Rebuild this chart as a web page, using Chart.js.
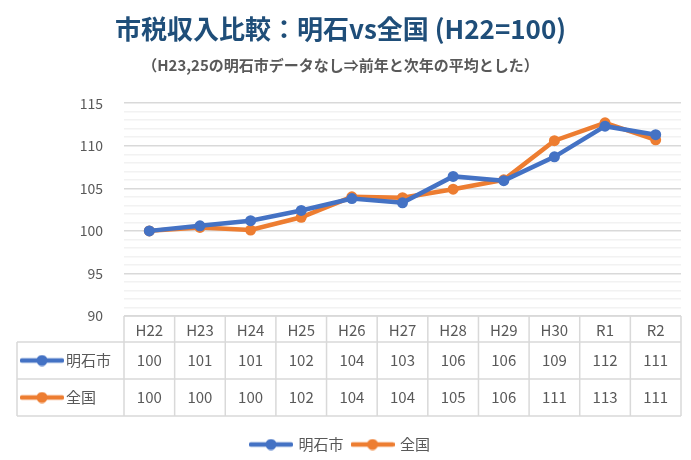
<!DOCTYPE html>
<html><head><meta charset="utf-8">
<script src="https://cdn.jsdelivr.net/npm/chart.js@4.4.1/dist/chart.umd.min.js"></script>
<style>html,body{margin:0;padding:0;background:#fff;}#wrap{width:691px;height:460px;position:relative;}</style>
</head><body><div id="wrap"><canvas id="c"></canvas></div>
<script>
const categories = ['H22','H23','H24','H25','H26','H27','H28','H29','H30','R1','R2'];
const akashiValues = [100, 100.6, 101.2, 102.4, 103.8, 103.3, 106.4, 105.9, 108.7, 112.3, 111.3];
const zenkokuValues = [100, 100.4, 100.1, 101.6, 104.0, 103.9, 104.9, 106.0, 110.6, 112.7, 110.7];
const akashiTable = [100, 101, 101, 102, 104, 103, 106, 106, 109, 112, 111];
const zenkokuTable = [100, 100, 100, 102, 104, 104, 105, 106, 111, 113, 111];
const seriesNames = ['明石市', '全国'];
const seriesColors = ['#4472C4', '#ED7D31'];
const yMin = 90, yMax = 115, yMajor = 5;
const titleText = '市税収入比較：明石vs全国 (H22=100)';
const subtitleText = '（H23,25の明石市データなし⇒前年と次年の平均とした）';

const FONT = '"Noto Sans CJK JP", "Noto Sans", sans-serif';
const GRAY = '#595959';

function makeKey(color) {
  const c = document.createElement('canvas');
  c.width = 44; c.height = 12;
  const g = c.getContext('2d');
  g.strokeStyle = color; g.lineWidth = 4.5; g.lineCap = 'round';
  g.beginPath(); g.moveTo(2, 6); g.lineTo(42, 6); g.stroke();
  g.fillStyle = color; g.beginPath(); g.arc(22, 6, 5.5, 0, Math.PI * 2); g.fill();
  return c;
}
const keys = seriesColors.map(makeKey);
const tableRows = [akashiTable, zenkokuTable];

const tablePlugin = {
  id: 'dataTable',
  afterDraw(chart) {
    const { ctx, chartArea } = chart;
    const x = chart.scales.x;
    const n = categories.length;
    const colW = (chartArea.right - chartArea.left) / n;
    const top = chartArea.bottom;
    const headerH = 26, rowH = 37;
    const leftX = 17;
    const bottom = top + headerH + rowH * 2;
    ctx.save();
    ctx.strokeStyle = '#D9D9D9';
    ctx.lineWidth = 1.5;
    ctx.beginPath();
    ctx.moveTo(chartArea.left, top); ctx.lineTo(chartArea.right, top);
    for (let r = 0; r < 3; r++) {
      const yy = top + headerH + rowH * r;
      ctx.moveTo(leftX, yy); ctx.lineTo(chartArea.right, yy);
    }
    for (let i = 0; i <= n; i++) {
      const xx = chartArea.left + colW * i;
      ctx.moveTo(xx, top); ctx.lineTo(xx, bottom);
    }
    ctx.moveTo(leftX, top + headerH); ctx.lineTo(leftX, bottom);
    ctx.stroke();
    ctx.fillStyle = GRAY;
    ctx.font = '15px ' + FONT;
    ctx.textBaseline = 'middle';
    ctx.textAlign = 'center';
    categories.forEach((c, i) => ctx.fillText(c, x.getPixelForValue(i), top + headerH / 2 + 1));
    tableRows.forEach((row, r) => {
      const cy = top + headerH + rowH * r + rowH / 2;
      ctx.drawImage(keys[r], 20, cy - 6);
      ctx.textAlign = 'left';
      ctx.fillText(seriesNames[r], 66, cy);
      ctx.textAlign = 'center';
      row.forEach((v, i) => ctx.fillText(String(v), x.getPixelForValue(i), cy));
    });
    ctx.restore();
  }
};

new Chart(document.getElementById('c'), {
  type: 'line',
  data: {
    labels: categories,
    datasets: [
      { label: seriesNames[0], data: akashiValues, borderColor: seriesColors[0], backgroundColor: seriesColors[0], borderWidth: 4.5, pointRadius: 5.5, pointHoverRadius: 5.5, pointBorderWidth: 0, tension: 0 },
      { label: seriesNames[1], data: zenkokuValues, borderColor: seriesColors[1], backgroundColor: seriesColors[1], borderWidth: 4.5, pointRadius: 5.5, pointHoverRadius: 5.5, pointBorderWidth: 0, tension: 0 }
    ]
  },
  options: {
    responsive: true,
    maintainAspectRatio: false,
    animation: false,
    layout: { padding: { left: 0, right: 10, top: 0, bottom: -2 } },
    plugins: {
      title: { display: true, text: titleText, color: '#1F4E79', font: { family: FONT, size: 26, weight: 'bold', lineHeight: 1.2 }, padding: { top: 14, bottom: 4 } },
      subtitle: { display: true, text: subtitleText, color: GRAY, font: { family: FONT, size: 15, weight: 'bold', lineHeight: 1.2 }, padding: { top: 7, bottom: 29 } },
      legend: {
        display: true, position: 'bottom',
        labels: {
          color: GRAY, font: { family: FONT, size: 15 }, usePointStyle: true, pointStyleWidth: 40, padding: 9,
          generateLabels(chart) {
            return chart.data.datasets.map((ds, i) => ({
              text: ds.label, fillStyle: ds.borderColor, strokeStyle: ds.borderColor, fontColor: GRAY,
              pointStyle: keys[i], lineWidth: 0, datasetIndex: i, hidden: false
            }));
          }
        }
      },
      tooltip: { enabled: false }
    },
    scales: {
      x: {
        offset: true,
        grid: { display: false },
        border: { display: false },
        ticks: { display: false },
        afterFit(s) { s.height = 112; }
      },
      y: {
        min: yMin, max: yMax,
        border: { display: false },
        grid: { drawTicks: false, lineWidth: 1.5, color: c => (c.tick && c.tick.value % yMajor === 0) ? '#D9D9D9' : '#F2F2F2' },
        ticks: { stepSize: 1, autoSkip: false, padding: 21, color: GRAY, font: { family: FONT, size: 14 }, callback: v => (v % yMajor === 0 ? v : '') },
        afterFit(s) { s.width = 124; }
      }
    }
  },
  plugins: [tablePlugin]
});
</script></body></html>
